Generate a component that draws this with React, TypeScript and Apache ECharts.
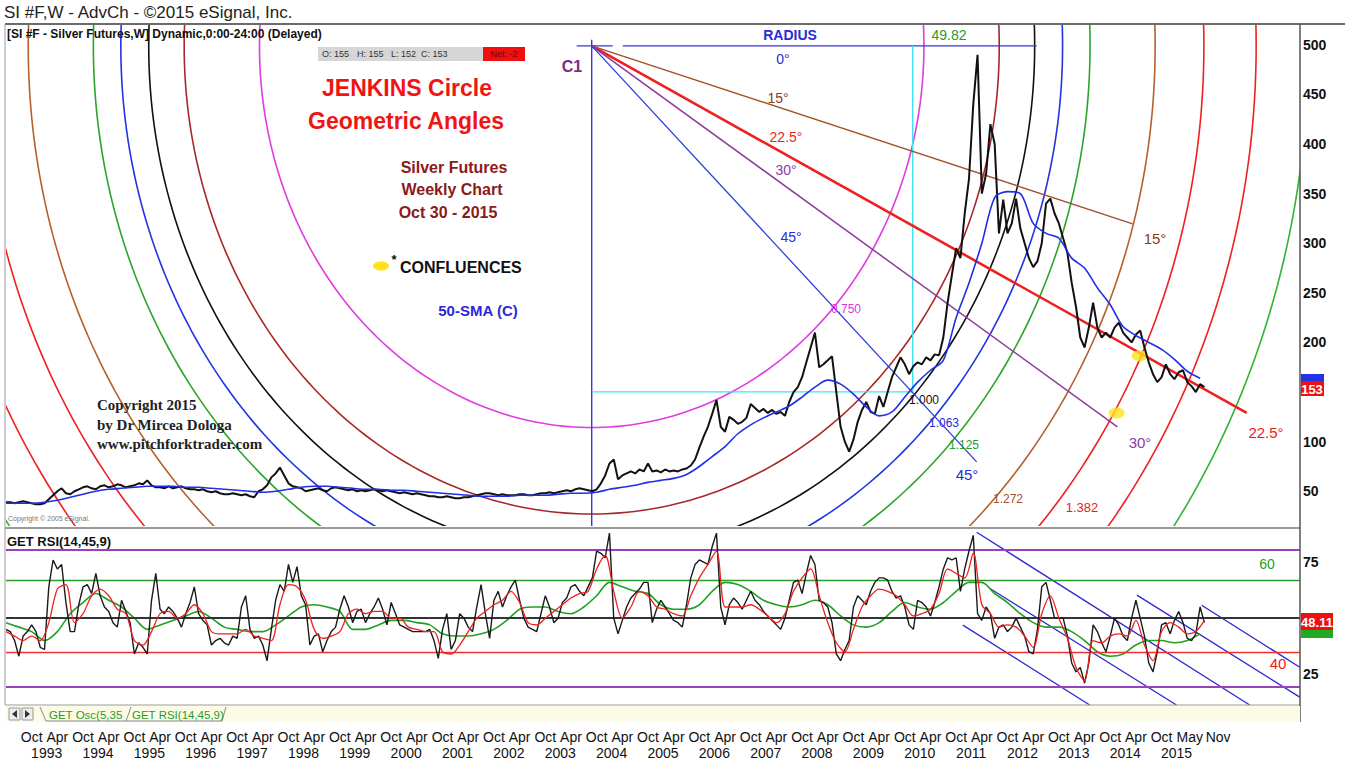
import React, { useEffect, useRef } from "react";
import * as echarts from "echarts";

// ---------- DATA ----------
const T0 = 1992.25; // first monthly sample (decimal year)
const X_MIN = 1992.25;
const X_MAX = 2017.445;
const P_MIN = 15;
const P_MAX = 521;
const R_MIN = 11.2;
const R_MAX = 89.4;

// silver futures weekly (x10), sampled monthly
const priceMonthly = [
  39, 39, 38, 39, 40, 39, 38, 37, 37, 38,
  42, 46, 50, 53, 48, 47,
  50, 52, 54, 55, 53, 52, 55, 56,
  54, 55, 57, 56, 54, 55, 56, 58, 57, 61, 56, 54,
  54, 53, 55, 53, 54, 55, 53, 52, 52, 51, 52, 50,
  49, 50, 48, 47, 47, 48, 47, 46, 47, 45, 44, 50,
  52, 56, 64, 68, 74, 66, 58, 55, 54, 53, 50, 51,
  52, 53, 51, 50, 53, 54, 53, 52, 51, 52, 50, 51,
  50, 51, 52, 51, 50, 51, 50, 49, 48, 49, 48, 47,
  48, 47, 46, 45, 45, 44, 44, 45, 44, 43, 43, 44,
  44, 45, 46, 47, 48, 48, 47, 46, 47, 46, 46, 46,
  47, 47, 46, 46, 47, 48, 48, 49, 48, 49, 50, 51,
  50, 52, 53, 52, 51, 50,
  52, 58, 66, 78, 82, 62, 66, 68, 70, 68, 72, 70, 78, 70, 71, 69, 72, 70, 71, 70,
  72, 73, 76, 82, 94, 105, 115, 128, 142, 115, 110, 125, 122, 118, 120, 124, 138, 134, 130, 133,
  129, 132, 128, 130, 126, 140, 150, 155, 165, 180, 195, 210, 175, 178, 182, 186, 150, 115, 100, 90,
  102, 120, 132, 140, 130, 128, 146, 135, 150, 165, 175, 185, 178, 168, 176, 180, 178, 185, 182, 188,
  187, 205, 240, 268, 295, 285, 330, 365, 440, 490, 350, 370, 420, 400, 310, 344, 310, 320, 345, 315,
  300, 285, 276, 282, 300, 340, 345, 330, 320, 305, 290, 260, 236, 205, 195, 215, 240, 215, 205, 210,
  205, 215, 220, 210, 205, 200, 208, 212, 195, 180, 168, 160, 165, 178, 168, 163, 170, 172, 160, 156,
  150, 158, 155,
];

// 50-week SMA, sampled quarterly
const smaQuarterly = [
  38, 38, 38, 39, 41, 44, 47, 50, 52, 53,
  54, 55, 55, 55, 54, 54, 53, 52, 51, 50,
  49, 50, 52, 54, 55, 55, 54, 53, 52, 52,
  51, 51, 50, 49, 48, 47, 46, 45, 45, 45,
  46, 46, 46, 47, 48, 48, 49, 52, 54, 56,
  59, 61, 63, 67, 75, 85, 95, 108, 117, 124,
  130, 136, 145, 155, 162, 158, 148, 135, 126, 130,
  145, 160, 172, 182, 225, 260, 300, 346, 352, 350,
  320, 310, 305, 285, 275, 255, 238, 216, 207, 200,
  193, 183, 171, 164,
];

// GET RSI(14,45,9): fast line, sampled monthly
const rsiMonthly = [
  45, 44, 40, 33, 42, 44, 47, 44, 37, 36,
  64, 76, 72, 74, 57, 44, 44, 56, 64, 65,
  61, 70, 60, 55, 53, 48, 46, 58, 53, 48,
  34, 39, 37, 34, 58, 70, 54, 52, 55, 53,
  50, 46, 52, 57, 64, 52, 49, 47, 38, 40,
  41, 39, 38, 42, 41, 55, 60, 45, 41, 42,
  38, 31, 45, 58, 65, 62, 74, 66, 73, 60,
  56, 38, 42, 43, 35, 40, 44, 46, 54, 60,
  55, 48, 53, 54, 48, 52, 55, 59, 54, 47,
  57, 52, 47, 46, 45, 44, 44, 44, 44, 45,
  40, 32, 45, 52, 36, 40, 52, 50, 46, 44,
  55, 65, 52, 41, 58, 62, 55, 60, 64, 67,
  58, 50, 46, 45, 44, 52, 60, 55, 48, 50,
  57, 59, 64, 65, 62, 60, 64, 68, 80, 79,
  77, 88, 50, 43, 49, 55, 59, 61, 63, 66,
  66, 48, 54, 58, 55, 52, 49, 48, 46, 56,
  68, 74, 76, 75, 74, 82, 88, 55, 47, 56,
  59, 57, 54, 58, 62, 58, 56, 53, 51, 49,
  47, 45, 50, 58, 66, 67, 61, 70, 78, 74,
  58, 57, 55, 48, 34, 31, 36, 40, 55, 60,
  58, 56, 62, 66, 68, 68, 67, 62, 59, 60,
  55, 47, 45, 58, 57, 55, 51, 57, 64, 72,
  77, 76, 77, 62, 72, 80, 87, 52, 49, 55,
  52, 41, 46, 47, 44, 46, 50, 46, 42, 35,
  34, 45, 64, 66, 58, 50, 50, 50, 42, 30,
  26, 28, 21, 30, 47, 44, 39, 35, 42, 50,
  47, 42, 40, 50, 58, 50, 42, 30, 26, 35,
  47, 48, 43, 49, 53, 48, 41, 40, 43, 55, 48,
];

// signal line (red), sampled every two months
const rsiSignalBimonthly = [
  44, 42, 40, 42, 40, 48, 63, 65, 48, 52,
  60, 63, 60, 54, 52, 40, 38, 44, 52, 53,
  50, 52, 56, 52, 44, 43, 43, 43, 45, 42,
  41, 40, 56, 65, 64, 58, 45, 41, 42, 44,
  52, 54, 52, 53, 53, 50, 50, 46, 45, 44,
  44, 35, 34, 38, 44, 50, 53, 56, 58, 62,
  57, 48, 47, 50, 53, 56, 59, 61, 62, 72,
  78, 62, 50, 55, 62, 60, 55, 54, 52, 51,
  60, 68, 74, 80, 55, 55, 55, 56, 54, 51,
  48, 52, 62, 68, 72, 60, 48, 39, 35, 45,
  55, 60, 63, 62, 60, 56, 51, 52, 54, 61,
  72, 70, 68, 79, 56, 52, 46, 47, 46, 42,
  37, 52, 60, 50, 41, 28, 22, 40, 39, 42,
  43, 42, 49, 38, 31, 44, 48, 46, 43, 44, 49,
];

// slow line (green), sampled quarterly
const rsiSlowQuarterly = [
  48, 46, 44, 40, 44, 52, 57, 61, 58, 55,
  50, 45, 47, 49, 51, 53, 50, 46, 45, 44,
  44, 47, 51, 55, 56, 55, 53, 45, 45, 47,
  49, 49, 48, 47, 43, 42, 42, 43, 45, 49,
  54, 55, 55, 53, 52, 55, 60, 66, 64, 62,
  61, 56, 54, 54, 56, 62, 66, 65, 62, 58,
  56, 55, 56, 58, 56, 51, 47, 46, 48, 53,
  57, 55, 54, 57, 62, 66, 66, 61, 57, 52,
  48, 46, 46, 44, 40, 35, 33, 34, 38, 40,
  40, 39, 40, 43,
];

const rsiLevels = [80.4, 67, 50, 34.8, 19.2];

// Jenkins circle
const circleCenter = [2003.654, 499];
const unitRadius = [8.625, 513]; // (years, price units) for ratio 1.000
const arcLevels = [0.75, 0.92, 1.0, 1.063, 1.125, 1.272, 1.382, 1.5, 1.618];

// geometric angle rays from C1: end points (15, 22.5, 30, 45 deg)
const angleEnds = [
  [2014.187, 319.6],
  [2016.407, 129.0],
  [2013.89, 114.9],
  [2011.15, 79.6],
];
const radiusSegments = [
  [[2003.362, 499], [2004.063, 499]],
  [[2004.258, 499], [2012.318, 499]],
  [[2003.654, 505], [2003.654, 15]],
];
const cyanSegments = [
  [[2003.654, 150.2], [2009.904, 150.2]],
  [[2009.904, 499], [2009.904, 150.2]],
];
const confluences = [
  [2013.876, 129],
  [2014.323, 186.5],
];
// RSI pitchfork channel lines
const rsiChannels = [
  [[2011.15, 88.4], [2016.465, 11.2]],
  [[2011.4, 63.4], [2015.04, 11.2]],
  [[2010.88, 46.9], [2013.35, 11.2]],
  [[2014.27, 60.3], [2017.44, 14.7]],
  [[2015.53, 55.8], [2017.44, 28.1]],
];

const priceTicks = [50, 100, 200, 250, 300, 350, 400, 450, 500];
const rsiTicks = [25, 75];
const yearLabels = [
  1993, 1994, 1995, 1996, 1997, 1998, 1999, 2000, 2001, 2002, 2003, 2004,
  2005, 2006, 2007, 2008, 2009, 2010, 2011, 2012, 2013, 2014, 2015,
];
const extraMonthTicks = [
  [2015.3, "May"],
  [2015.85, "Nov"],
];

// ---------- STYLE ----------
const FONT = "'Liberation Sans', Arial, sans-serif";
const NARROW = "'Liberation Sans Narrow', 'Arial Narrow', 'Liberation Sans', sans-serif";
const SERIF = "'Liberation Serif', 'Times New Roman', serif";
const arcColors = ["#e03ce0", "#a8282a", "#111111", "#2233e6", "#2aa52a", "#b5602a", "#f02020", "#f02020", "#2fb52f"];
const angleColors = ["#a0522d", "#ee2020", "#8e3a9e", "#2a40d8"];
const angleWidths = [1.4, 2.6, 1.5, 1.3];

function buildMonthTicks() {
  const vals: number[] = [];
  const labels: string[] = [];
  for (let y = 1992; y <= 2014; y++) {
    if (y > 1992) {
      vals.push(y + 0.25);
      labels.push("Apr");
    }
    vals.push(y + 0.75);
    labels.push("Oct");
  }
  extraMonthTicks.forEach((m) => {
    vals.push(m[0] as number);
    labels.push(m[1] as string);
  });
  return { vals, labels };
}

function txt(x: number, y: number, text: string, color: string, size: number, o: any = {}) {
  const align = o.align || "center";
  return {
    type: "text",
    x,
    y,
    z: 100,
    silent: true,
    style: {
      text,
      fill: color,
      fontSize: size,
      fontWeight: o.weight || "normal",
      fontFamily: o.family || FONT,
      textAlign: align,
      textVerticalAlign: "middle",
      align,
      verticalAlign: "middle",
    },
  };
}

function hline(x1: number, y1: number, x2: number, y2: number, color: string, w: number) {
  return { type: "line", z: 90, silent: true, shape: { x1, y1, x2, y2 }, style: { stroke: color, lineWidth: w } };
}

function rect(x: number, y: number, w: number, h: number, fill: string, stroke?: string) {
  return { type: "rect", z: 95, silent: true, shape: { x, y, width: w, height: h }, style: { fill, stroke: stroke || null, lineWidth: 1 } };
}

export default function App() {
  const ref = useRef<HTMLDivElement>(null);

  useEffect(() => {
    if (!ref.current) return;
    const chart = echarts.init(ref.current, null, { renderer: "svg" });
    const mt = buildMonthTicks();
    const yearVals = yearLabels.map((y) => y + 0.042);

    const segLine = (data: number[][], color: string, width: number, xi: number, yi: number, z = 3) => ({
      type: "line",
      xAxisIndex: xi,
      yAxisIndex: yi,
      data,
      symbol: "none",
      silent: true,
      clip: true,
      z,
      lineStyle: { color, width },
    });

    const series: any[] = [];

    // arcs
    series.push({
      type: "custom",
      xAxisIndex: 0,
      yAxisIndex: 0,
      clip: true,
      silent: true,
      z: 2,
      data: arcLevels.map((lv, i) => [circleCenter[0], circleCenter[1], lv, i]),
      encode: { x: 0, y: 1 },
      renderItem: (params: any, api: any) => {
        const lv = api.value(2);
        const idx = api.value(3);
        const c = api.coord([circleCenter[0], circleCenter[1]]);
        const sz = api.size([unitRadius[0] * lv, unitRadius[1] * lv]);
        const pts: number[][] = [];
        for (let k = 0; k <= 360; k++) {
          const a = (k * Math.PI) / 180;
          pts.push([c[0] + sz[0] * Math.cos(a), c[1] + sz[1] * Math.sin(a)]);
        }
        return {
          type: "polyline",
          shape: { points: pts },
          style: { stroke: arcColors[idx], fill: "none", lineWidth: 1.6 },
        };
      },
    });

    radiusSegments.forEach((s) => series.push(segLine(s, "#3535e0", 1.4, 0, 0)));
    cyanSegments.forEach((s) => series.push(segLine(s, "#3fe3f3", 1.4, 0, 0)));
    angleEnds.forEach((e, i) => series.push(segLine([circleCenter, e], angleColors[i], angleWidths[i], 0, 0)));

    series.push({
      type: "scatter",
      xAxisIndex: 0,
      yAxisIndex: 0,
      data: confluences,
      symbol: "circle",
      symbolSize: [16, 11],
      itemStyle: { color: "#ffe21a" },
      silent: true,
      z: 4,
    });

    series.push({
      type: "line",
      xAxisIndex: 0,
      yAxisIndex: 0,
      data: priceMonthly.map((v, i) => [T0 + i / 12, v]),
      symbol: "none",
      silent: true,
      z: 5,
      lineStyle: { color: "#111", width: 2 },
    });
    series.push({
      type: "line",
      xAxisIndex: 0,
      yAxisIndex: 0,
      data: smaQuarterly.map((v, i) => [T0 + i / 4, v]),
      symbol: "none",
      smooth: 0.3,
      silent: true,
      z: 6,
      lineStyle: { color: "#1f2ee8", width: 1.6 },
    });

    // RSI panel
    const levelColors = ["#9a3fc0", "#2a9a2a", "#333333", "#f03030", "#9a3fc0"];
    const levelWidths = [2, 1.4, 2, 1.4, 2];
    series.push({
      type: "line",
      xAxisIndex: 1,
      yAxisIndex: 1,
      data: [],
      silent: true,
      markLine: {
        symbol: "none",
        silent: true,
        label: { show: false },
        data: rsiLevels.map((v, i) => ({ yAxis: v, lineStyle: { color: levelColors[i], width: levelWidths[i], type: "solid" } })),
      },
    });
    rsiChannels.forEach((s) => series.push(segLine(s, "#2a2ad0", 1.3, 1, 1)));
    series.push({
      type: "line",
      xAxisIndex: 1,
      yAxisIndex: 1,
      data: rsiSlowQuarterly.map((v, i) => [T0 + i / 4, v]),
      symbol: "none",
      smooth: 0.3,
      silent: true,
      z: 4,
      lineStyle: { color: "#22a022", width: 1.6 },
    });
    series.push({
      type: "line",
      xAxisIndex: 1,
      yAxisIndex: 1,
      data: rsiMonthly.map((v, i) => [T0 + i / 12, v]),
      symbol: "none",
      silent: true,
      z: 5,
      lineStyle: { color: "#1a1a1a", width: 1.4 },
    });
    series.push({
      type: "line",
      xAxisIndex: 1,
      yAxisIndex: 1,
      data: rsiSignalBimonthly.map((v, i) => [T0 + i / 6, v]),
      symbol: "none",
      smooth: 0.3,
      silent: true,
      z: 6,
      lineStyle: { color: "#f02020", width: 1.3 },
    });

    const graphic: any[] = [
      // frame
      hline(5, 24, 1345, 24, "#6b6b6b", 2),
      hline(5, 24, 5, 705, "#9a9a9a", 1),
      hline(5, 528, 1300, 528, "#9a9a9a", 2),
      hline(5, 705, 1300, 705, "#9a9a9a", 1),
      rect(6, 706, 1294, 16, "#fbfbe6"),
      hline(1300, 24, 1300, 722, "#555", 1.5),
      // title bar
      txt(4, 12, "SI #F,W - AdvCh - ©2015 eSignal, Inc.", "#222", 17, { align: "left" }),
      txt(7, 34, "[SI #F - Silver Futures,W] Dynamic,0:00-24:00 (Delayed)", "#111", 12, { align: "left", weight: "bold", family: NARROW }),
      rect(318, 47, 165, 14, "#d6d6d6"),
      txt(322, 54, "O: 155", "#333", 9, { align: "left" }),
      txt(357, 54, "H: 155", "#333", 9, { align: "left" }),
      txt(391, 54, "L: 152", "#333", 9, { align: "left" }),
      txt(421, 54, "C: 153", "#333", 9, { align: "left" }),
      rect(483, 47, 42, 14, "#f01010"),
      txt(504, 54, "Net: -2", "#7a0000", 9),
      // headings
      txt(407, 88, "JENKINS Circle", "#f01414", 23, { weight: "bold" }),
      txt(406, 121, "Geometric Angles", "#f01414", 23, { weight: "bold" }),
      txt(454, 167, "Silver Futures", "#8b1a1a", 16, { weight: "bold" }),
      txt(452, 189, "Weekly Chart", "#8b1a1a", 16, { weight: "bold" }),
      txt(448, 212, "Oct 30 - 2015", "#8b1a1a", 16, { weight: "bold" }),
      { type: "ellipse", z: 95, silent: true, shape: { cx: 381, cy: 266, rx: 8, ry: 4.5 }, style: { fill: "#ffe21a" } },
      txt(394, 259, "*", "#111", 13, { weight: "bold" }),
      txt(400, 267, "CONFLUENCES", "#111", 16, { align: "left", weight: "bold" }),
      txt(478, 310, "50-SMA (C)", "#2a2ad8", 15, { weight: "bold" }),
      txt(97, 405, "Copyright 2015", "#222", 15, { align: "left", weight: "bold", family: SERIF }),
      txt(97, 425, "by Dr Mircea Dologa", "#222", 15, { align: "left", weight: "bold", family: SERIF }),
      txt(97, 444, "www.pitchforktrader.com", "#222", 15, { align: "left", weight: "bold", family: SERIF }),
      txt(8, 518, "Copyright © 2005 eSignal.", "#777", 7, { align: "left" }),
      // circle labels
      txt(572, 66, "C1", "#7b2a8a", 16, { weight: "bold" }),
      txt(790, 35, "RADIUS", "#2a2ad8", 14, { weight: "bold" }),
      txt(949, 35, "49.82", "#2a9a2a", 14),
      txt(783, 59, "0°", "#2a2ad8", 14),
      txt(778, 98, "15°", "#8b3a1a", 14),
      txt(786, 137, "22.5°", "#ee1a1a", 14),
      txt(786, 170, "30°", "#8e3a9e", 14),
      txt(791, 237, "45°", "#2a2ad8", 14),
      txt(846, 309, "0.750", "#d838d8", 12),
      txt(924, 400, "1.000", "#111", 12),
      txt(944, 423, "1.063", "#2a2ad8", 12),
      txt(964, 445, "1.125", "#2a9a2a", 12),
      txt(967, 474, "45°", "#2a2ad8", 15),
      txt(1008, 499, "1.272", "#a0522d", 12),
      txt(1082, 507, "1.382", "#ee1a1a", 13),
      txt(1140, 442, "30°", "#8e3a9e", 15),
      txt(1266, 432, "22.5°", "#ee1a1a", 15),
      txt(1155, 238, "15°", "#8b3a1a", 15),
      // price markers
      rect(1301, 374, 23, 9, "#2233e6"),
      rect(1301, 381, 23, 15, "#ee1010"),
      txt(1312, 389, "153", "#fff", 13, { weight: "bold", family: NARROW }),
      // RSI panel texts
      txt(7, 541, "GET RSI(14,45,9)", "#111", 13, { align: "left", weight: "bold", family: NARROW }),
      txt(1267, 564, "60", "#2a9a2a", 14),
      txt(1278, 663, "40", "#ee1a1a", 15),
      rect(1301, 613, 32, 18, "#ee1010"),
      txt(1317, 622, "48.11", "#fff", 13, { weight: "bold", family: NARROW }),
      rect(1301, 630, 32, 8, "#22aa22"),
      // tab bar
      rect(9, 708, 11, 12, "#eeeeee", "#999"),
      rect(22, 708, 11, 12, "#eeeeee", "#999"),
      { type: "polygon", z: 96, silent: true, shape: { points: [[17, 710], [17, 718], [12, 714]] }, style: { fill: "#333" } },
      { type: "polygon", z: 96, silent: true, shape: { points: [[25, 710], [25, 718], [30, 714]] }, style: { fill: "#333" } },
      { type: "polyline", z: 96, silent: true, shape: { points: [[40, 707], [46, 721], [126, 721], [131, 707]] }, style: { stroke: "#888", fill: "none", lineWidth: 1 } },
      { type: "polyline", z: 96, silent: true, shape: { points: [[126, 721], [222, 721], [226, 707]] }, style: { stroke: "#888", fill: "none", lineWidth: 1 } },
      txt(49, 715, "GET Osc(5,35", "#2a9a2a", 11.5, { align: "left" }),
      txt(132, 715, "GET RSI(14,45,9)", "#2a9a2a", 11.5, { align: "left" }),
    ];

    const option: any = {
      animation: false,
      backgroundColor: "#ffffff",
      grid: [
        { left: 6, right: 45, top: 24, height: 502 },
        { left: 6, right: 45, top: 530, height: 175 },
      ],
      xAxis: [
        { type: "value", gridIndex: 0, min: X_MIN, max: X_MAX, show: false, splitLine: { show: false } },
        {
          type: "value",
          gridIndex: 1,
          min: X_MIN,
          max: X_MAX,
          position: "bottom",
          axisLine: { show: false },
          axisTick: { show: false },
          splitLine: { show: false },
          axisLabel: {
            customValues: mt.vals,
            margin: 25,
            fontFamily: NARROW,
            fontSize: 14,
            color: "#111",
            formatter: (v: number) => {
              let best = 0;
              let d = 1e9;
              mt.vals.forEach((t, i) => {
                if (Math.abs(t - v) < d) {
                  d = Math.abs(t - v);
                  best = i;
                }
              });
              return mt.labels[best];
            },
          },
        },
        {
          type: "value",
          gridIndex: 1,
          min: X_MIN,
          max: X_MAX,
          position: "bottom",
          axisLine: { show: false },
          axisTick: { show: false },
          splitLine: { show: false },
          axisLabel: {
            customValues: yearVals,
            margin: 41,
            fontFamily: NARROW,
            fontSize: 14,
            color: "#111",
            formatter: (v: number) => String(Math.round(v - 0.042)),
          },
        },
      ],
      yAxis: [
        {
          type: "value",
          gridIndex: 0,
          min: P_MIN,
          max: P_MAX,
          position: "right",
          axisLine: { show: false },
          axisTick: { show: false },
          splitLine: { show: false },
          axisLabel: { customValues: priceTicks, margin: 3, fontFamily: NARROW, fontSize: 14, color: "#111", fontWeight: "bold" },
        },
        {
          type: "value",
          gridIndex: 1,
          min: R_MIN,
          max: R_MAX,
          position: "right",
          axisLine: { show: false },
          axisTick: { show: false },
          splitLine: { show: false },
          axisLabel: { customValues: rsiTicks, margin: 3, fontFamily: NARROW, fontSize: 14, color: "#111", fontWeight: "bold" },
        },
      ],
      series,
      graphic,
    };
    chart.setOption(option);
    return () => chart.dispose();
  }, []);

  return (
    <div
      ref={ref}
      style={{ position: "fixed", left: 0, top: 0, width: 1345, height: 762, background: "#fff" }}
    />
  );
}
